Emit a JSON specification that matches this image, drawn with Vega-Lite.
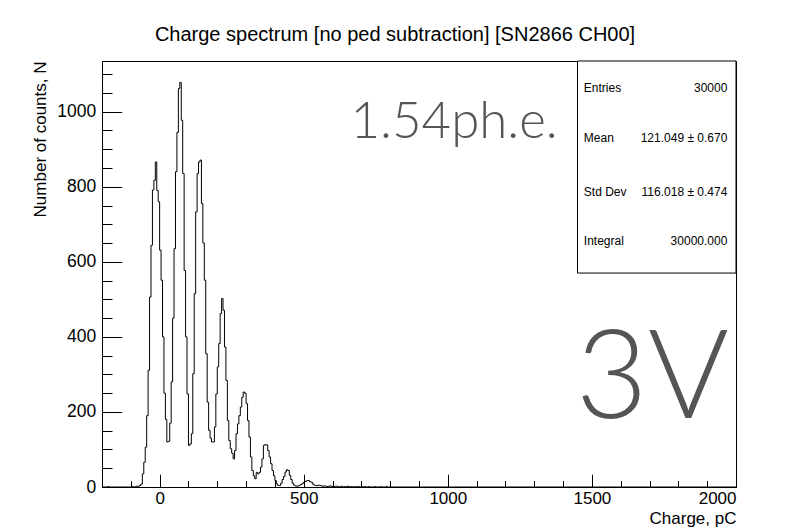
{
  "$schema": "https://vega.github.io/schema/vega-lite/v6.json",
  "width": 634,
  "height": 426,
  "autosize": {"type": "none"},
  "padding": {"left": 102, "top": 61, "right": 53, "bottom": 44},
  "background": "white",
  "config": {
    "view": {"stroke": "black", "strokeWidth": 1},
    "font": "Liberation Sans",
    "axis": {"domain": false, "grid": false, "tickColor": "black", "labelColor": "black", "titleColor": "black", "labelFont": "Liberation Sans", "titleFont": "Liberation Sans", "titleFontWeight": "normal"}
  },
  "title": {"text": "Charge spectrum [no ped subtraction] [SN2866 CH00]", "font": "Liberation Sans", "fontSize": 20, "fontWeight": "normal", "color": "black", "anchor": "middle", "dx": -24, "offset": 16},
  "datasets": {
    "one": [{}],
    "hist": [
      {"q": -200, "n": 0}, {"q": -180, "n": 1}, {"q": -175, "n": 0},
      {"q": -100, "n": 0}, {"q": -95, "n": 1}, {"q": -90, "n": 0}, {"q": -85, "n": 1}, {"q": -80, "n": 2}, {"q": -75, "n": 2},
      {"q": -70, "n": 4}, {"q": -65, "n": 8}, {"q": -60, "n": 35}, {"q": -55, "n": 66}, {"q": -50, "n": 106},
      {"q": -45, "n": 190}, {"q": -40, "n": 311}, {"q": -35, "n": 506}, {"q": -30, "n": 644}, {"q": -25, "n": 791},
      {"q": -20, "n": 817}, {"q": -15, "n": 866}, {"q": -10, "n": 790}, {"q": -5, "n": 760}, {"q": 0, "n": 631},
      {"q": 5, "n": 551}, {"q": 10, "n": 400}, {"q": 15, "n": 250}, {"q": 20, "n": 180}, {"q": 25, "n": 120},
      {"q": 30, "n": 122}, {"q": 35, "n": 170}, {"q": 40, "n": 280}, {"q": 45, "n": 450}, {"q": 50, "n": 635},
      {"q": 55, "n": 840}, {"q": 60, "n": 945}, {"q": 65, "n": 1062}, {"q": 70, "n": 1078}, {"q": 75, "n": 977},
      {"q": 80, "n": 835}, {"q": 85, "n": 577}, {"q": 90, "n": 400}, {"q": 95, "n": 248}, {"q": 100, "n": 111},
      {"q": 105, "n": 115}, {"q": 110, "n": 142}, {"q": 115, "n": 302}, {"q": 120, "n": 515}, {"q": 125, "n": 733},
      {"q": 130, "n": 835}, {"q": 135, "n": 866}, {"q": 140, "n": 871}, {"q": 145, "n": 755}, {"q": 150, "n": 650},
      {"q": 155, "n": 551}, {"q": 160, "n": 355}, {"q": 165, "n": 226}, {"q": 170, "n": 151}, {"q": 175, "n": 130},
      {"q": 180, "n": 120}, {"q": 185, "n": 120}, {"q": 190, "n": 160}, {"q": 195, "n": 248}, {"q": 200, "n": 320},
      {"q": 205, "n": 382}, {"q": 210, "n": 462}, {"q": 215, "n": 502}, {"q": 220, "n": 471}, {"q": 225, "n": 373},
      {"q": 230, "n": 284}, {"q": 235, "n": 177}, {"q": 240, "n": 124}, {"q": 245, "n": 102}, {"q": 250, "n": 90},
      {"q": 255, "n": 75}, {"q": 260, "n": 97}, {"q": 265, "n": 142}, {"q": 270, "n": 168}, {"q": 275, "n": 190},
      {"q": 280, "n": 213}, {"q": 285, "n": 239}, {"q": 290, "n": 253}, {"q": 295, "n": 250}, {"q": 300, "n": 222},
      {"q": 305, "n": 177}, {"q": 310, "n": 133}, {"q": 315, "n": 80}, {"q": 320, "n": 44}, {"q": 325, "n": 30},
      {"q": 330, "n": 22}, {"q": 335, "n": 39}, {"q": 340, "n": 35}, {"q": 345, "n": 39}, {"q": 350, "n": 53},
      {"q": 355, "n": 75}, {"q": 360, "n": 111}, {"q": 365, "n": 113}, {"q": 370, "n": 112}, {"q": 375, "n": 97},
      {"q": 380, "n": 80}, {"q": 385, "n": 62}, {"q": 390, "n": 44}, {"q": 395, "n": 30}, {"q": 400, "n": 17},
      {"q": 405, "n": 8}, {"q": 410, "n": 4}, {"q": 415, "n": 4}, {"q": 420, "n": 10}, {"q": 425, "n": 20},
      {"q": 430, "n": 28}, {"q": 435, "n": 40}, {"q": 440, "n": 46}, {"q": 445, "n": 44}, {"q": 450, "n": 31},
      {"q": 455, "n": 20}, {"q": 460, "n": 10}, {"q": 465, "n": 5}, {"q": 470, "n": 3}, {"q": 475, "n": 2},
      {"q": 480, "n": 3}, {"q": 485, "n": 5}, {"q": 490, "n": 7}, {"q": 495, "n": 10}, {"q": 500, "n": 13},
      {"q": 505, "n": 15}, {"q": 510, "n": 17}, {"q": 515, "n": 17}, {"q": 520, "n": 14}, {"q": 525, "n": 13},
      {"q": 530, "n": 8}, {"q": 535, "n": 5}, {"q": 540, "n": 4}, {"q": 545, "n": 3}, {"q": 550, "n": 5},
      {"q": 555, "n": 4}, {"q": 560, "n": 3}, {"q": 565, "n": 2}, {"q": 570, "n": 3}, {"q": 575, "n": 2},
      {"q": 580, "n": 1}, {"q": 585, "n": 2}, {"q": 590, "n": 3}, {"q": 595, "n": 1}, {"q": 600, "n": 2},
      {"q": 605, "n": 1}, {"q": 610, "n": 2}, {"q": 615, "n": 2}, {"q": 620, "n": 1}, {"q": 625, "n": 1},
      {"q": 630, "n": 2}, {"q": 635, "n": 0}, {"q": 640, "n": 1}, {"q": 645, "n": 1}, {"q": 650, "n": 2},
      {"q": 655, "n": 0}, {"q": 660, "n": 1}, {"q": 665, "n": 1}, {"q": 670, "n": 0}, {"q": 675, "n": 1},
      {"q": 680, "n": 0}, {"q": 685, "n": 1}, {"q": 690, "n": 1}, {"q": 695, "n": 0}, {"q": 700, "n": 1},
      {"q": 705, "n": 0}, {"q": 710, "n": 1}, {"q": 715, "n": 0}, {"q": 725, "n": 1}, {"q": 730, "n": 0},
      {"q": 745, "n": 1}, {"q": 750, "n": 0}, {"q": 765, "n": 1}, {"q": 770, "n": 0}, {"q": 785, "n": 1},
      {"q": 790, "n": 0}, {"q": 2000, "n": 0}
    ]
  },
  "layer": [
    {
      "data": {"name": "hist"},
      "mark": {"type": "line", "interpolate": "step-after", "color": "black", "strokeWidth": 1},
      "encoding": {
        "x": {"field": "q", "type": "quantitative", "scale": {"domain": [-200, 2000], "nice": false, "zero": false},
              "axis": {"orient": "bottom", "values": [0, 500, 1000, 1500, 2000], "tickSize": -12.7, "labelPadding": 16.5, "labelFontSize": 17, "format": "d",
                       "title": "Charge, pC", "titleFontSize": 17, "titleX": 634, "titleY": 36, "titleAlign": "right", "titleBaseline": "alphabetic", "titleAngle": 0}},
        "y": {"field": "n", "type": "quantitative", "scale": {"domain": [0, 1135], "nice": false},
              "axis": {"orient": "left", "values": [0, 200, 400, 600, 800, 1000], "tickSize": -19.7, "labelPadding": 26, "labelFontSize": 17.5, "format": "d",
                       "title": "Number of counts, N", "titleFontSize": 17, "titleX": -62, "titleY": 0, "titleAlign": "right", "titleBaseline": "middle", "titleAngle": -90}}
      }
    },
    {
      "data": {"name": "hist"},
      "mark": {"type": "point", "opacity": 0},
      "encoding": {
        "x": {"field": "q", "type": "quantitative", "scale": {"domain": [-200, 2000], "nice": false, "zero": false},
              "axis": {"orient": "bottom", "values": [-200, -100, 0, 100, 200, 300, 400, 500, 600, 700, 800, 900, 1000, 1100, 1200, 1300, 1400, 1500, 1600, 1700, 1800, 1900, 2000], "tickSize": -6.5, "labels": false, "title": null}},
        "y": {"field": "n", "type": "quantitative", "scale": {"domain": [0, 1135], "nice": false},
              "axis": {"orient": "left", "values": [0, 50, 100, 150, 200, 250, 300, 350, 400, 450, 500, 550, 600, 650, 700, 750, 800, 850, 900, 950, 1000, 1050, 1100], "tickSize": -10, "labels": false, "title": null}}
      }
    },
    {
      "data": {"name": "one"},
      "mark": {"type": "rect", "fill": "white", "stroke": "black", "strokeWidth": 1},
      "encoding": {
        "x": {"datum": 1450, "type": "quantitative", "axis": null}, "x2": {"datum": 2000},
        "y": {"datum": 570, "type": "quantitative", "axis": null}, "y2": {"datum": 1135}
      }
    },
    {
      "data": {"name": "one"},
      "mark": {"type": "text", "align": "left", "baseline": "middle", "fontSize": 12, "font": "Liberation Sans", "color": "black"},
      "encoding": {"x": {"datum": 1472, "type": "quantitative", "axis": null}, "y": {"datum": 1062, "type": "quantitative", "axis": null}, "text": {"value": "Entries"}}
    },
    {
      "data": {"name": "one"},
      "mark": {"type": "text", "align": "right", "baseline": "middle", "fontSize": 12, "font": "Liberation Sans", "color": "black"},
      "encoding": {"x": {"datum": 1970, "type": "quantitative", "axis": null}, "y": {"datum": 1062, "type": "quantitative", "axis": null}, "text": {"value": "30000"}}
    },
    {
      "data": {"name": "one"},
      "mark": {"type": "text", "align": "left", "baseline": "middle", "fontSize": 12, "font": "Liberation Sans", "color": "black"},
      "encoding": {"x": {"datum": 1472, "type": "quantitative", "axis": null}, "y": {"datum": 930, "type": "quantitative", "axis": null}, "text": {"value": "Mean"}}
    },
    {
      "data": {"name": "one"},
      "mark": {"type": "text", "align": "right", "baseline": "middle", "fontSize": 12, "font": "Liberation Sans", "color": "black"},
      "encoding": {"x": {"datum": 1970, "type": "quantitative", "axis": null}, "y": {"datum": 930, "type": "quantitative", "axis": null}, "text": {"value": "121.049 ± 0.670"}}
    },
    {
      "data": {"name": "one"},
      "mark": {"type": "text", "align": "left", "baseline": "middle", "fontSize": 12, "font": "Liberation Sans", "color": "black"},
      "encoding": {"x": {"datum": 1472, "type": "quantitative", "axis": null}, "y": {"datum": 785, "type": "quantitative", "axis": null}, "text": {"value": "Std Dev"}}
    },
    {
      "data": {"name": "one"},
      "mark": {"type": "text", "align": "right", "baseline": "middle", "fontSize": 12, "font": "Liberation Sans", "color": "black"},
      "encoding": {"x": {"datum": 1970, "type": "quantitative", "axis": null}, "y": {"datum": 785, "type": "quantitative", "axis": null}, "text": {"value": "116.018 ± 0.474"}}
    },
    {
      "data": {"name": "one"},
      "mark": {"type": "text", "align": "left", "baseline": "middle", "fontSize": 12, "font": "Liberation Sans", "color": "black"},
      "encoding": {"x": {"datum": 1472, "type": "quantitative", "axis": null}, "y": {"datum": 655, "type": "quantitative", "axis": null}, "text": {"value": "Integral"}}
    },
    {
      "data": {"name": "one"},
      "mark": {"type": "text", "align": "right", "baseline": "middle", "fontSize": 12, "font": "Liberation Sans", "color": "black"},
      "encoding": {"x": {"datum": 1970, "type": "quantitative", "axis": null}, "y": {"datum": 655, "type": "quantitative", "axis": null}, "text": {"value": "30000.000"}}
    },
    {
      "data": {"name": "one"},
      "mark": {"type": "text", "align": "center", "baseline": "alphabetic", "fontSize": 51, "font": "Lato", "fontWeight": 300, "color": "#555555"},
      "encoding": {"x": {"datum": 1022, "type": "quantitative", "axis": null}, "y": {"datum": 930, "type": "quantitative", "axis": null}, "text": {"value": "1.54ph.e."}}
    },
    {
      "data": {"name": "one"},
      "mark": {"type": "text", "align": "center", "baseline": "alphabetic", "fontSize": 124, "font": "Lato", "fontWeight": 300, "color": "#555555"},
      "encoding": {"x": {"datum": 1710, "type": "quantitative", "axis": null}, "y": {"datum": 185, "type": "quantitative", "axis": null}, "text": {"value": "3V"}}
    }
  ],
  "resolve": {"axis": {"x": "independent", "y": "independent"}}
}
